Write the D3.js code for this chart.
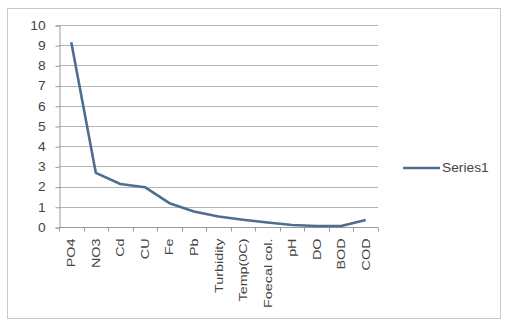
<!DOCTYPE html>
<html><head><meta charset="utf-8">
<script src="https://cdn.jsdelivr.net/npm/d3@7"></script>
<style>body{margin:0;background:#fff;}svg{display:block;}text{font-family:"Liberation Sans",Arial,sans-serif;fill:#444;}</style>
</head><body>
<svg id="c" width="510" height="326"></svg>
<script>
const categories = ["PO4","NO3","Cd","CU","Fe","Pb","Turbidity","Temp(0C)","Foecal col.","pH","DO","BOD","COD"];
const series1 = [9.15,2.68,2.13,1.97,1.18,0.77,0.52,0.36,0.22,0.1,0.05,0.05,0.35];
const yTicks = [0,1,2,3,4,5,6,7,8,9,10];
const seriesName = "Series1";

const svg = d3.select("#c");
svg.append("rect").attr("x",7.5).attr("y",8.5).attr("width",493).attr("height",310)
  .attr("fill","#fff").attr("stroke","#c8c8c8");

const x = d3.scaleBand().domain(categories).range([59,378]);
const y = d3.scaleLinear().domain([0,10]).range([227,25]);

// gridlines
svg.append("g").selectAll("line").data(yTicks.filter(d=>d>0)).join("line")
  .attr("x1",59).attr("x2",378).attr("y1",d=>Math.round(y(d))+0.5).attr("y2",d=>Math.round(y(d))+0.5)
  .attr("stroke","#b4b4b4");

const yAxis = svg.append("g").attr("transform","translate(59.5,0.5)")
  .call(d3.axisLeft(y).tickValues(yTicks).tickSize(4).tickPadding(10));
yAxis.select(".domain").attr("stroke","#9a9a9a");
yAxis.selectAll(".tick line").attr("stroke","#9a9a9a");
yAxis.selectAll(".tick text").attr("font-size",12).attr("fill","#5a5a5a")
  .attr("transform","scale(1.15,1)").attr("x",-12);

// x axis with boundary ticks
const xAxis = svg.append("g").attr("transform","translate(0,227.5)");
xAxis.append("line").attr("x1",59).attr("x2",378).attr("stroke","#9a9a9a");
const bounds = categories.map(c=>x(c)).concat([x.range()[1]]);
xAxis.selectAll(".bt").data(bounds).join("line").attr("class","bt")
  .attr("x1",d=>Math.round(d)+0.5).attr("x2",d=>Math.round(d)+0.5).attr("y1",0).attr("y2",4)
  .attr("stroke","#9a9a9a");
xAxis.selectAll(".lbl").data(categories).join("text").attr("class","lbl")
  .attr("transform",d=>`translate(${x(d)+x.bandwidth()/2+4},11) rotate(-90) scale(1.25,1)`)
  .attr("text-anchor","end").attr("font-size",11.5).attr("fill","#5a5a5a")
  .text(d=>d);

// line
const line = d3.line().x((d,i)=>x(categories[i])+x.bandwidth()/2).y(d=>y(d));
svg.append("path").datum(series1).attr("d",line).attr("fill","none")
  .attr("stroke","#4f6d8f").attr("stroke-width",2.6).attr("stroke-linejoin","round");

// legend
svg.append("line").attr("x1",403).attr("x2",440).attr("y1",168).attr("y2",168)
  .attr("stroke","#4f6d8f").attr("stroke-width",2.6);
svg.append("text").attr("transform","translate(442,172) scale(1.15,1)").attr("font-size",12)
  .attr("fill","#5a5a5a").text(seriesName);
</script>
</body></html>
